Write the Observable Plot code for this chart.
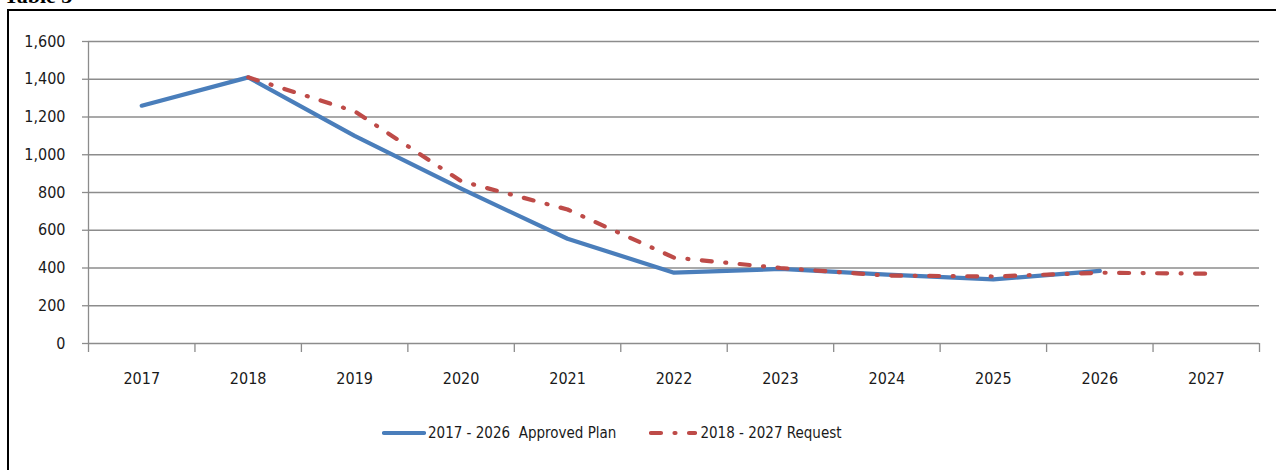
<!DOCTYPE html>
<html>
<head>
<meta charset="utf-8">
<script src="https://cdn.jsdelivr.net/npm/d3@7"></script>
<script src="https://cdn.jsdelivr.net/npm/@observablehq/plot@0.6"></script>
<style>
  html, body { margin: 0; padding: 0; background: #fff; overflow: hidden; }
  #wrap { position: relative; width: 1276px; height: 470px; overflow: hidden; font-family: "DejaVu Sans Condensed", "Liberation Sans Narrow", sans-serif; color: #1a1a1a; }
  #title { position: absolute; left: 4px; top: -15px; line-height: 22px; font-family: "Liberation Serif", "DejaVu Serif", serif; font-weight: bold; font-size: 22px; color: #000; }
  #frame { position: absolute; left: 7px; top: 9px; width: 1400px; height: 600px; border-left: 2px solid #000; border-top: 2px solid #000; box-sizing: border-box; }
  #chart { position: absolute; left: 0; top: 0; }
  #chart svg [aria-label^="x-axis"] line, #chart svg [aria-label^="x-axis"] path,
  #chart svg [aria-label^="y-axis"] line, #chart svg [aria-label^="y-axis"] path { stroke: #8c8c8c; stroke-width: 1.3; }
  #legend { position: absolute; left: 382px; top: 424px; display: flex; align-items: center; font-size: 15px; color: #1a1a1a; white-space: pre; }
  #legend .item { display: flex; align-items: center; }
  #legend svg { display: block; }
</style>
</head>
<body>
<div id="wrap">
  <div id="frame"></div>
  <div id="title">Table 3</div>
  <div id="chart"></div>
  <div id="legend"></div>
</div>
<script>
// Categories / tick labels
const years = [2017, 2018, 2019, 2020, 2021, 2022, 2023, 2024, 2025, 2026, 2027];
const yTicks = [0, 200, 400, 600, 800, 1000, 1200, 1400, 1600];

// Series: 2017 - 2026 Approved Plan
const planYears = [2017, 2018, 2019, 2020, 2021, 2022, 2023, 2024, 2025, 2026];
const planValues = [1260, 1410, 1100, 820, 555, 375, 395, 365, 340, 385];

// Series: 2018 - 2027 Request
const requestYears = [2018, 2019, 2020, 2021, 2022, 2023, 2024, 2025, 2026, 2027];
const requestValues = [1410, 1230, 860, 710, 455, 400, 360, 355, 375, 370];

const seriesNames = ["2017 - 2026  Approved Plan", "2018 - 2027 Request"];
const colors = ["#4A7EBB", "#BE4B48"];
const dash = "10,13.5,1,13.5";

const plan = planYears.map((y, i) => ({year: y, value: planValues[i]}));
const request = requestYears.map((y, i) => ({year: y, value: requestValues[i]}));
const boundaries = [years[0] - 0.5, ...years.map(y => y + 0.5)];
const fmt = d3.format(",");
const font = '"DejaVu Sans Condensed", "Liberation Sans Narrow", sans-serif';

const plot = Plot.plot({
  width: 1276,
  height: 400,
  marginLeft: 88,
  marginRight: 17,
  marginTop: 41,
  marginBottom: 57,
  style: {fontFamily: font, fontSize: "16px", color: "#1a1a1a", background: "transparent"},
  x: {type: "linear", domain: [boundaries[0], boundaries[boundaries.length - 1]], ticks: boundaries, tickFormat: () => "", tickSize: 9, label: null},
  y: {domain: [0, 1600], ticks: yTicks, tickFormat: d => fmt(d), tickSize: 6, tickPadding: 17, label: null},
  marks: [
    Plot.ruleY(yTicks, {stroke: "#8c8c8c", strokeWidth: 1.3}),
    Plot.ruleX([boundaries[0]], {stroke: "#8c8c8c", strokeWidth: 1.3}),
    Plot.text(years, {x: d => d, y: 0, dy: 35, text: d => String(d), fontSize: 16, fill: "#1a1a1a"}),
    Plot.line(plan, {x: "year", y: "value", stroke: colors[0], strokeWidth: 4.2, strokeLinecap: "round", strokeLinejoin: "round"}),
    Plot.line(request, {x: "year", y: "value", stroke: colors[1], strokeWidth: 4.2, strokeDasharray: dash, strokeLinecap: "round", strokeLinejoin: "round"})
  ]
});
document.getElementById("chart").appendChild(plot);

// Legend
const legend = d3.select("#legend");
const sw = [{w: 44, gap: 2, after: 33}, {w: 48, gap: 3, after: 0}];
seriesNames.forEach((name, i) => {
  const item = legend.append("div").attr("class", "item").style("margin-right", sw[i].after + "px");
  const s = item.append("svg").attr("width", sw[i].w).attr("height", 10).style("margin-right", sw[i].gap + "px");
  s.append("line").attr("x1", 2).attr("x2", sw[i].w - 2).attr("y1", 5).attr("y2", 5)
    .attr("stroke", colors[i]).attr("stroke-width", 4.2).attr("stroke-linecap", "round")
    .attr("stroke-dasharray", i === 1 ? "10,13.5,1,13.5" : null);
  item.append("span").text(name);
});
</script>
</body>
</html>
